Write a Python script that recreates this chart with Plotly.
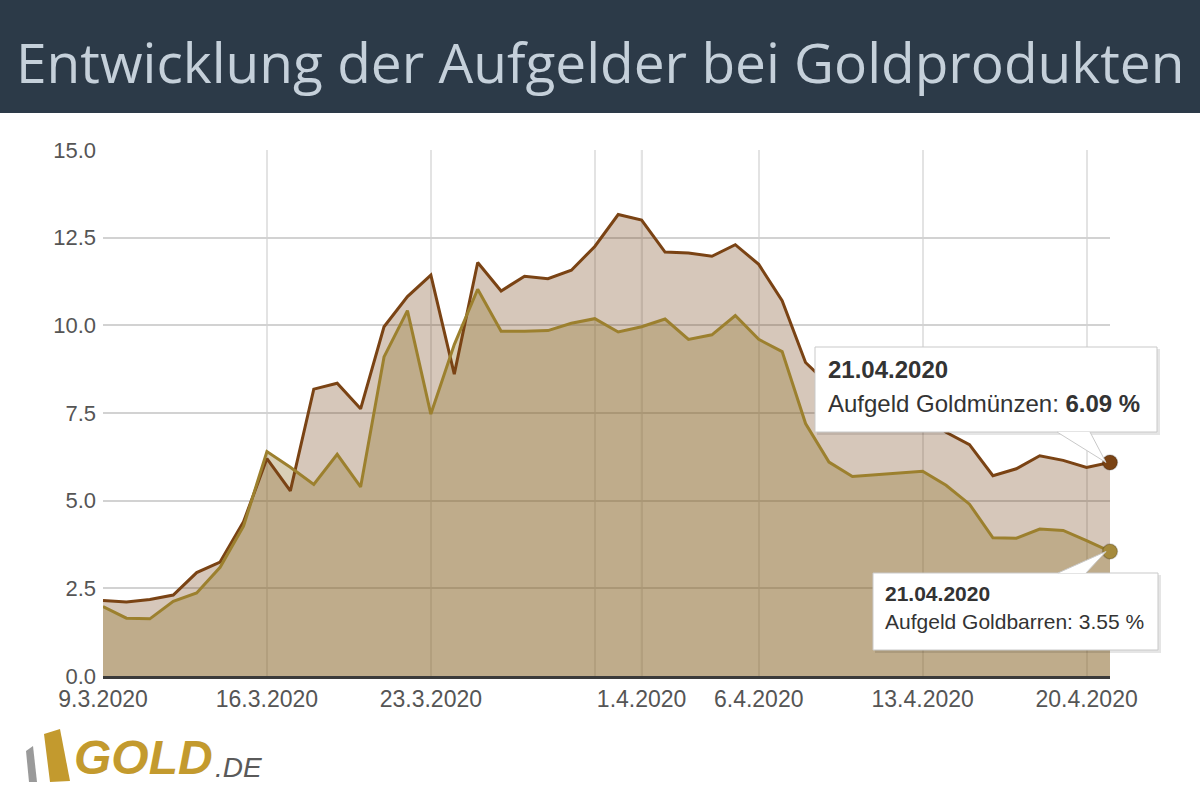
import plotly.graph_objects as go
import pandas as pd

# ---------------- data ----------------
dates = pd.date_range("2020-03-09", "2020-04-21", freq="D")

muenzen = [2.15, 2.11, 2.18, 2.31, 2.95, 3.25, 4.40, 6.20, 5.28, 8.18,
           8.35, 7.62, 9.96, 10.82, 11.43, 8.61, 11.79, 10.98, 11.40, 11.33,
           11.57, 12.25, 13.16, 13.00, 12.09, 12.06, 11.97, 12.30, 11.74, 10.70,
           8.94, 8.30, 7.90, 7.75, 7.80, 7.50, 6.95, 6.60, 5.71, 5.91,
           6.28, 6.15, 5.95, 6.09]

barren = [1.98, 1.65, 1.63, 2.13, 2.37, 3.10, 4.27, 6.40, 5.95, 5.46,
          6.32, 5.39, 9.10, 10.42, 7.47, 9.45, 11.03, 9.83, 9.83, 9.85,
          10.06, 10.19, 9.81, 9.96, 10.18, 9.60, 9.73, 10.28, 9.60, 9.25,
          7.20, 6.10, 5.69, 5.74, 5.77, 5.84, 5.44, 4.90, 3.94, 3.93,
          4.19, 4.15, 3.86, 3.55]

series_names = ["Aufgeld Goldmünzen", "Aufgeld Goldbarren"]

tick_dates = ["2020-03-09", "2020-03-16", "2020-03-23", "2020-03-30",
              "2020-04-01", "2020-04-06", "2020-04-13", "2020-04-20"]
tick_labels = ["9.3.2020", "16.3.2020", "23.3.2020", "",
               "1.4.2020", "6.4.2020", "13.4.2020", "20.4.2020"]
y_ticks = [0, 2.5, 5, 7.5, 10, 12.5, 15]

title_text = "Entwicklung der Aufgelder bei Goldprodukten"

# ---------------- styles ----------------
C_M_LINE = "#7a4314"
C_B_LINE = "#9c802e"
C_M_FILL = "rgba(120,70,25,0.30)"
C_B_FILL = "rgba(150,125,55,0.36)"
FONT = "Liberation Sans, Arial, sans-serif"

# plot area in pixels
L, R, T, B = 103, 1110, 150, 676
W, H = 1200, 800
Y_MAX = 15.0


def P(px):  # pixel x -> paper x
    return (px - L) / (R - L)


def Q(py):  # pixel y -> paper y
    return (B - py) / (B - T)


fig = go.Figure()

# fills
fig.add_trace(go.Scatter(x=dates, y=muenzen, mode="none", fill="tozeroy",
                         fillcolor=C_M_FILL, hoverinfo="skip", showlegend=False))
fig.add_trace(go.Scatter(x=dates, y=barren, mode="none", fill="tozeroy",
                         fillcolor=C_B_FILL, hoverinfo="skip", showlegend=False))
# lines
fig.add_trace(go.Scatter(x=dates, y=muenzen, mode="lines", name=series_names[0],
                         line=dict(color=C_M_LINE, width=3), showlegend=False))
fig.add_trace(go.Scatter(x=dates, y=barren, mode="lines", name=series_names[1],
                         line=dict(color=C_B_LINE, width=3), showlegend=False))
# end markers
fig.add_trace(go.Scatter(x=[dates[-1]], y=[muenzen[-1]], mode="markers",
                         marker=dict(size=15, color=C_M_LINE,
                                     line=dict(color="rgba(0,0,0,0.18)", width=1.5)),
                         cliponaxis=False, showlegend=False, hoverinfo="skip"))
fig.add_trace(go.Scatter(x=[dates[-1]], y=[barren[-1]], mode="markers",
                         marker=dict(size=15, color="#a58a3c",
                                     line=dict(color="rgba(0,0,0,0.18)", width=1.5)),
                         cliponaxis=False, showlegend=False, hoverinfo="skip"))

shapes = []
annotations = []

# header band
shapes.append(dict(type="rect", xref="paper", yref="paper",
                   x0=P(0), x1=P(W), y0=Q(113), y1=Q(0),
                   fillcolor="#2c3a48", line=dict(width=0), layer="above"))
annotations.append(dict(text=title_text, xref="paper", yref="paper",
                        x=P(600), y=Q(61), xanchor="center", yanchor="middle",
                        showarrow=False,
                        font=dict(family="Open Sans", size=55, color="#c5d0da")))

# darker month gridline (1.4.)
shapes.append(dict(type="line", xref="x", yref="paper", x0="2020-04-01", x1="2020-04-01",
                   y0=0, y1=1, line=dict(color="#c6c6c6", width=1.5), layer="below"))

# tooltips
last_date = dates[-1].strftime("%d.%m.%Y")
x_last = 1.0


def tooltip(box, base, tip_val, lines, font_sizes):
    x0, y0, x1, y1 = box
    # shadow
    shapes.append(dict(type="rect", xref="paper", yref="paper",
                       x0=P(x0 + 2), x1=P(x1 + 3), y0=Q(y1 + 3), y1=Q(y0 + 2),
                       fillcolor="rgba(0,0,0,0.10)", line=dict(width=0), layer="above"))
    shapes.append(dict(type="rect", xref="paper", yref="paper",
                       x0=P(x0), x1=P(x1), y0=Q(y1), y1=Q(y0),
                       fillcolor="white", line=dict(color="#c9c9c9", width=1), layer="above"))
    bx0, bx1, by = base
    tip_y = tip_val / Y_MAX
    path = (f"M {P(bx0):.5f},{Q(by):.5f} L {x_last - 0.004:.5f},{tip_y:.5f} "
            f"L {P(bx1):.5f},{Q(by):.5f}")
    shapes.append(dict(type="path", xref="paper", yref="paper", path=path,
                       fillcolor="white", line=dict(color="#c9c9c9", width=1), layer="above"))
    for (tx, ty, txt), fs in zip(lines, font_sizes):
        annotations.append(dict(text=txt, xref="paper", yref="paper",
                                x=P(tx), y=Q(ty), xanchor="left", yanchor="middle",
                                showarrow=False, align="left",
                                font=dict(family=FONT, size=fs, color="#333333")))


tooltip((815, 347, 1157, 432), (1057, 1090, 432), muenzen[-1],
        [(826, 369, f"<b>{last_date}</b>"),
         (826, 403, f"{series_names[0]}: <b>{muenzen[-1]:.2f} %</b>")],
        [24, 24])
tooltip((873, 573, 1158, 650), (1058, 1086, 573), barren[-1],
        [(883, 593, f"<b>{last_date}</b>"),
         (883, 621, f"{series_names[1]}: {barren[-1]:.2f} %")],
        [21, 21])

# logo
shapes.append(dict(type="path", xref="paper", yref="paper",
                   path=f"M {P(26)},{Q(751)} L {P(33)},{Q(746)} L {P(37)},{Q(782)} L {P(29)},{Q(782)} Z",
                   fillcolor="#9a9a9a", line=dict(width=0), layer="above"))
shapes.append(dict(type="path", xref="paper", yref="paper",
                   path=f"M {P(44)},{Q(734)} L {P(60)},{Q(729)} L {P(70)},{Q(781)} L {P(50)},{Q(782)} Z",
                   fillcolor="#c39a2e", line=dict(width=0), layer="above"))
annotations.append(dict(text="<b><i>GOLD</i></b>", xref="paper", yref="paper",
                        x=P(72), y=Q(757), xanchor="left", yanchor="middle",
                        showarrow=False,
                        font=dict(family=FONT, size=48, color="#c39a2e")))
annotations.append(dict(text="<i>.DE</i>", xref="paper", yref="paper",
                        x=P(213), y=Q(767), xanchor="left", yanchor="middle",
                        showarrow=False,
                        font=dict(family=FONT, size=28, color="#5a5a5a")))

fig.update_layout(
    width=W, height=H, autosize=False,
    margin=dict(l=L, r=W - R, t=T, b=H - B, pad=0),
    paper_bgcolor="white", plot_bgcolor="white",
    shapes=shapes, annotations=annotations,
    hovermode=False,
    xaxis=dict(range=[dates[0], dates[-1]], tickvals=tick_dates, ticktext=tick_labels,
               showgrid=True, gridcolor="#e3e3e3", gridwidth=1.5,
               showline=True, linecolor="#3a3a3a", linewidth=3,
               ticks="", zeroline=False,
               tickfont=dict(family=FONT, size=23, color="#555555")),
    yaxis=dict(range=[0, Y_MAX], tickvals=y_ticks, tickformat=".1f",
               showgrid=True, gridcolor="#d2d2d2", gridwidth=2,
               zeroline=False, showline=False, ticks="",
               ticklabelstandoff=6,
               tickfont=dict(family=FONT, size=22, color="#555555")),
)

fig.write_html("out.html")
